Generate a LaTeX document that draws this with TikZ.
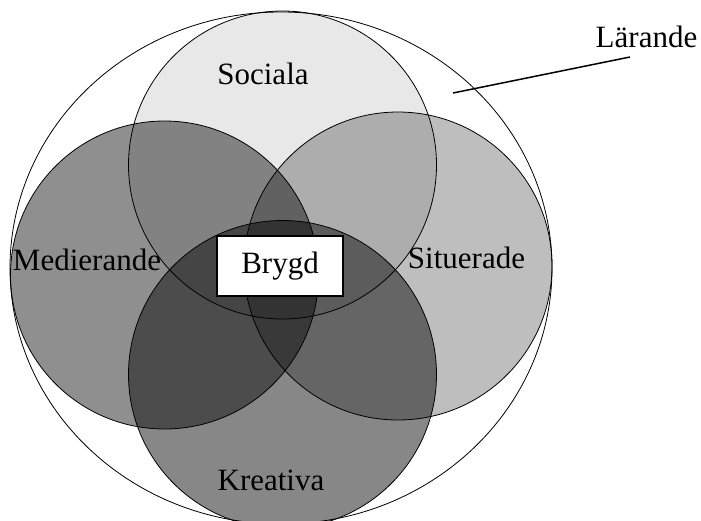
\documentclass[tikz,border=0pt]{standalone}
\usepackage{fontspec}
\setmainfont{Liberation Serif}
\usepackage{tikz}
\usetikzlibrary{shapes,positioning}

\begin{document}
\begin{tikzpicture}[x=1pt,y=-1pt]
            \tikzstyle{area}=[circle, minimum size = 308pt, inner sep=0pt, draw = black, line width=0.8pt, fill = black]
            \tikzstyle{whole}=[ellipse, minimum width = 542pt, minimum height = 512pt, inner sep=0pt, draw = black, line width=0.8pt]
            \tikzstyle{word}=[inner sep=0pt, anchor=base, font=\fontsize{31}{37}\selectfont]
            \tikzstyle{core}=[rectangle, minimum width = 126pt, minimum height = 60pt, inner sep=0pt, fill = white, draw = black, line width=1.5pt, font=\fontsize{31}{37}\selectfont]
            \useasboundingbox (0,0) rectangle (701,520);
            \node[whole] (L) at (281,268){};
            \node[area, fill opacity=0.09] (S) at (282.5,165){};
            \node[area, fill opacity=0.255] (Si) at (398,266){};
            \node[area, fill opacity=0.44] (M) at (164.5,275){};
            \node[area, fill opacity=0.47] (K) at (282.5,374.5){};

            \node[core] (B) at (280,266){Brygd};

            \node[word] (Stext) at (263,84){Sociala};
            \node[word] (Mtext) at (87,270){Medierande};
            \node[word] (Sitext) at (466.5,268){Situerade};
            \node[word] (Ktext) at (271,490){Kreativa};
            \node[word] (Ltext) at (646.5,47){Lärande};

            % pointer to the outer ellipse
            \coordinate (Lin) at (453,93);
            \coordinate (Lout) at (630,57);
            \path[-] (Lin) edge [line width=1.5pt] (Lout);
\end{tikzpicture}
\end{document}
